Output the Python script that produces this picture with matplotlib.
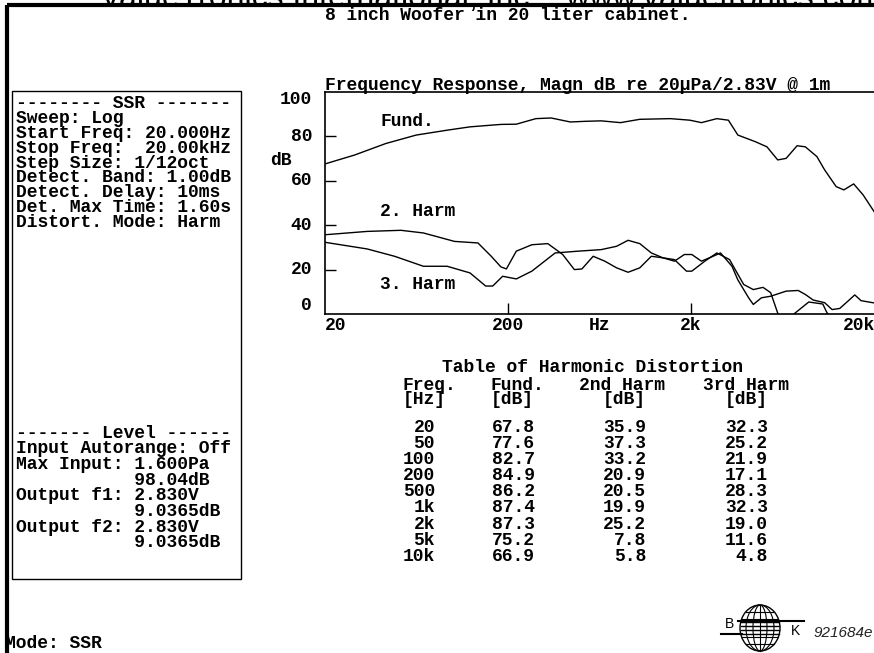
import numpy as np
import matplotlib.pyplot as plt
from matplotlib.patches import Rectangle, Ellipse

# ---- data ----
fund_f = [20, 29, 43, 63, 93, 124, 183, 222, 284, 344, 438, 532, 646, 824, 1050,
          1545, 1973, 2281, 2769, 3201, 3607, 4499, 5200, 5956, 6620, 7600, 8430,
          9750, 10750, 12420, 13680, 15490, 17420, 20000]
fund_db = [67.6, 71.6, 76.8, 80.6, 82.8, 84.3, 85.4, 85.5, 88.0, 88.3, 86.5, 86.8,
           87.0, 86.2, 87.7, 88.0, 87.3, 86.2, 88.0, 87.3, 80.6, 77.6, 75.3, 69.4,
           70.1, 75.8, 75.3, 70.9, 64.9, 57.4, 55.9, 58.6, 53.7, 46.2]

h2_f = [20, 34, 52, 69, 102, 137, 162, 183, 196, 222, 270, 330, 398, 461, 507, 584,
        676, 784, 906, 1050, 1214, 1405, 1624, 1840, 2020, 2280, 2640, 2900, 3350,
        3600, 3880, 4130, 4380, 4850, 5450, 6620, 7700, 8430, 9300, 10750, 11800,
        13000, 14500, 15700, 17000, 20000]
h2_db = [35.7, 37.2, 37.7, 36.5, 32.7, 32.0, 26.0, 21.2, 20.3, 28.3, 31.2, 31.7,
         26.8, 20.0, 20.3, 26.0, 23.8, 20.8, 18.8, 20.8, 26.0, 25.3, 23.8, 26.8,
         26.8, 23.8, 26.0, 27.5, 21.5, 15.5, 11.0, 7.3, 4.3, 7.3, 8.0, 10.3, 10.6,
         8.8, 6.3, 5.1, 2.0, 2.5, 6.0, 8.6, 6.0, 5.0]

h3_f = [20, 34, 48, 69, 93, 124, 151, 165, 187, 222, 270, 362, 482, 646, 784, 906,
        1050, 1214, 1405, 1624, 1890, 2020, 2380, 2770, 3250, 3600, 3880, 4380,
        4950, 5450, 5950, 6300, 7300, 8800, 10500, 11000, 12000]
h3_db = [32.3, 29.3, 26.0, 21.5, 21.5, 18.5, 12.6, 12.6, 17.0, 15.8, 19.3, 27.5,
         28.3, 29.0, 30.5, 33.2, 31.7, 27.5, 25.3, 24.5, 19.3, 19.3, 23.8, 27.5,
         24.5, 18.0, 13.3, 11.0, 12.0, 9.6, 0.5, -4.0, 0.0, 5.4, 4.5, 1.0, -4.0]

ytick_vals = [0, 20, 40, 60, 80, 100]
xtick_labels = {20: "20", 200: "200", 2000: "2k", 20000: "20k"}

ssr_lines = ["-------- SSR -------", "Sweep: Log", "Start Freq: 20.000Hz",
             "Stop Freq:  20.00kHz", "Step Size: 1/12oct", "Detect. Band: 1.00dB",
             "Detect. Delay: 10ms", "Det. Max Time: 1.60s", "Distort. Mode: Harm"]
level_lines = ["------- Level ------", "Input Autorange: Off", "Max Input: 1.600Pa",
               "           98.04dB", "Output f1: 2.830V", "           9.0365dB",
               "Output f2: 2.830V", "           9.0365dB"]

tab_freq = ["20", "50", "100", "200", "500", "1k", "2k", "5k", "10k"]
tab_fund = ["67.8", "77.6", "82.7", "84.9", "86.2", "87.4", "87.3", "75.2", "66.9"]
tab_h2 = ["35.9", "37.3", "33.2", "20.9", "20.5", "19.9", "25.2", "7.8", "5.8"]
tab_h3 = ["32.3", "25.2", "21.9", "17.1", "28.3", "32.3", "19.0", "11.6", "4.8"]

W, H = 874, 653
MONO = dict(family="Liberation Mono", weight="bold", fontsize=13, color="black")

fig = plt.figure(figsize=(W / 100, H / 100), dpi=100)

# page overlay in pixel coords
pg = fig.add_axes([0, 0, 1, 1])
pg.set_xlim(0, W)
pg.set_ylim(H, 0)
pg.axis("off")

# outer border + watermark (mostly above the top edge)
pg.plot([7, W], [5, 5], color="black", lw=3, solid_capstyle="butt")
pg.plot([7, 7], [5, H], color="black", lw=3, solid_capstyle="butt")
pg.text(100, 7, "ValueTronics International, Inc. - www.valuetronics.com",
        family="Liberation Sans", fontsize=23, va="baseline", ha="left")

pg.text(325, 16, "8 inch Woofer in 20 liter cabinet.", ha="left", va="center", **MONO)
pg.text(325, 86, "Frequency Response, Magn dB re 20\u00b5Pa/2.83V @ 1m",
        ha="left", va="center", **MONO)

# left info box
pg.add_patch(Rectangle((12, 91), 229, 488, fill=False, lw=1, ec="black"))
for i, s in enumerate(ssr_lines):
    pg.text(16, 104 + i * 14.8, s, ha="left", va="center", **MONO)
for i, s in enumerate(level_lines):
    pg.text(16, 433 + i * 15.7, s, ha="left", va="center", **MONO)
pg.text(5, 643, "Mode: SSR", ha="left", va="center", **MONO)

# table
pg.text(592, 368, "Table of Harmonic Distortion", ha="center", va="center", **MONO)
heads = [(403, "Freq.", "[Hz]", 403, 435, tab_freq),
         (491, "Fund.", "[dB]", 491, 535, tab_fund),
         (579, "2nd Harm", "[dB]", 603, 646, tab_h2),
         (703, "3rd Harm", "[dB]", 725, 768, tab_h3)]
for x1, h1, h2, x2, xr, col in heads:
    pg.text(x1, 385, h1, ha="left", va="center", **MONO)
    pg.text(x2, 400, h2, ha="left", va="center", **MONO)
    for j, v in enumerate(col):
        pg.text(xr, 427 + j * 16.2, v, ha="right", va="center", **MONO)

# logo
cx, cy = 760, 628
pg.add_patch(Ellipse((cx, cy), 40, 46, fill=False, lw=1, ec="black"))
for w in [28, 14]:
    pg.add_patch(Ellipse((cx, cy), w, 46, fill=False, lw=0.8, ec="black"))
pg.plot([cx, cx], [cy - 23, cy + 23], color="black", lw=0.8)
for dy in [-16, -9, 9, 16]:
    half = 20 * np.sqrt(1 - (dy / 23) ** 2)
    pg.plot([cx - half, cx + half], [cy + dy, cy + dy], color="black", lw=0.8)
for yy in [622, 626, 630, 634]:
    pg.plot([cx - 19, cx + 19], [yy, yy], color="black", lw=1)
pg.plot([721, 742], [634, 634], color="black", lw=1.5)
pg.plot([738, 804], [621, 621], color="black", lw=1.5)
pg.text(730, 624, "B", family="Liberation Sans", fontsize=10, ha="center", va="center")
pg.text(795, 631, "K", family="Liberation Sans", fontsize=10, ha="center", va="center")
pg.text(813, 633, "921684e", family="Liberation Sans", style="italic",
        fontsize=11, ha="left", va="center", color="#222222")

# frequency response plot
ax = fig.add_axes([325 / W, 1 - 314 / H, (W - 325) / W, (314 - 92) / H])
ax.set_xscale("log")
ax.set_xlim(20, 20000)
ax.set_ylim(0, 100)
ax.plot(fund_f, fund_db, color="black", lw=1)
ax.plot(h2_f, h2_db, color="black", lw=1)
ax.plot(h3_f, h3_db, color="black", lw=1)
ax.spines["right"].set_visible(False)
for s in ["left", "bottom", "top"]:
    ax.spines[s].set_linewidth(1.2)
ax.set_yticks([20, 40, 60, 80])
ax.set_xticks([200, 2000])
ax.minorticks_off()
ax.tick_params(direction="in", length=8, width=1, labelleft=False, labelbottom=False)
ax.set_facecolor("none")

for v in ytick_vals:
    dy = -8 if v == 100 else (8 if v == 0 else 0)
    ax.annotate(str(v), xy=(0, v), xycoords=("axes fraction", "data"),
                xytext=(-13 * 0.72, dy * 0.72), textcoords="offset points",
                ha="right", va="center", **MONO)
ax.annotate("dB", xy=(0, 69), xycoords=("axes fraction", "data"),
            xytext=(-33 * 0.72, 0), textcoords="offset points",
            ha="right", va="center", **MONO)
for f, lab in xtick_labels.items():
    ha = "left" if f in (20, 20000) else "center"
    dx = -31 * 0.72 if f == 20000 else 0
    ax.annotate(lab, xy=(f, 0), xycoords=("data", "axes fraction"),
                xytext=(dx, -11 * 0.72), textcoords="offset points",
                ha=ha, va="center", annotation_clip=False, **MONO)
ax.annotate("Hz", xy=(630, 0), xycoords=("data", "axes fraction"),
            xytext=(0, -11 * 0.72), textcoords="offset points",
            ha="center", va="center", **MONO)

ax.text(40, 86.5, "Fund.", ha="left", va="center", **MONO)
ax.text(40, 46, "2. Harm", ha="left", va="center", **MONO)
ax.text(40, 13.3, "3. Harm", ha="left", va="center", **MONO)

fig.savefig("out.png", dpi=100)
